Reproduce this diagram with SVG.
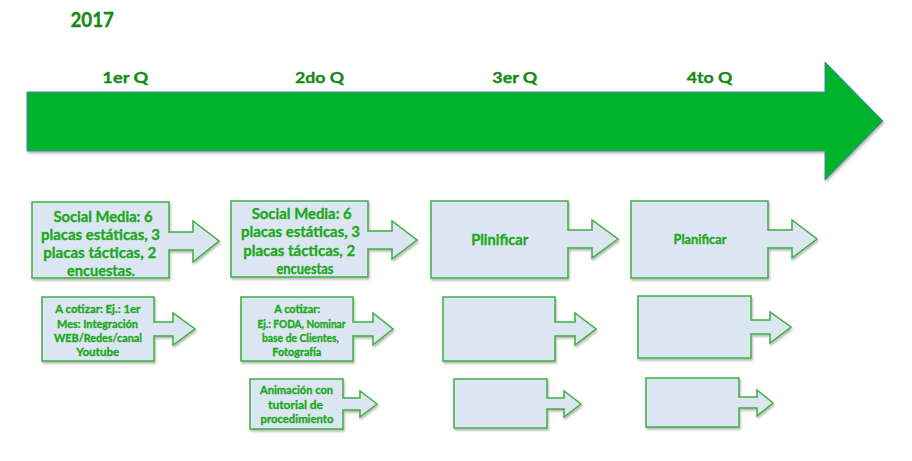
<svg xmlns="http://www.w3.org/2000/svg" width="912" height="461" viewBox="0 0 912 461">
<style>
.bg{fill:#ffffff}
.node path{fill:#DCE6F2;stroke:#3DB040;stroke-width:1.5;stroke-linejoin:miter}
.t{font-family:Lato,"Open Sans","Liberation Sans",sans-serif;font-weight:bold;fill:#1EA820;stroke:#1EA820;stroke-width:0.35;text-anchor:middle}
.big{font-size:15.5px}
.small{font-size:11.5px}
.mid{font-size:15px}
.lbl{font-family:Lato,"Open Sans","Liberation Sans",sans-serif;font-weight:bold;fill:#138A13;stroke:#138A13;stroke-width:0.35;font-size:16px}
</style>
<defs>
<filter id="sh" x="-10%" y="-10%" width="130%" height="140%">
<feDropShadow dx="1" dy="2" stdDeviation="1.2" flood-color="#000" flood-opacity="0.28"/>
</filter>
</defs>
<rect class="bg" x="0" y="0" width="912" height="461"/>

<g id="title">
<text class="lbl" x="70.5" y="27.3" style="font-size:20.5px" textLength="43.5" lengthAdjust="spacingAndGlyphs">2017</text>
</g>

<g id="timeline">
<path d="M27 92 H825 V62 L883 121 L825 180 V151 H27 Z" fill="#00B32A" stroke="#4F81BD" stroke-width="1" filter="url(#sh)"/>
<text class="lbl" x="102.3" y="82.5" textLength="46" lengthAdjust="spacingAndGlyphs">1er Q</text>
<text class="lbl" x="295" y="82.5" textLength="49" lengthAdjust="spacingAndGlyphs">2do Q</text>
<text class="lbl" x="492.3" y="82.5" textLength="45" lengthAdjust="spacingAndGlyphs">3er Q</text>
<text class="lbl" x="686.7" y="82.5" textLength="45.6" lengthAdjust="spacingAndGlyphs">4to Q</text>
</g>

<g id="connectors"></g>

<g id="q1-social" class="node">
<path d="M32 202 H169 V232 H193 V221 L219 241 L193 262 V250 H169 V278 H32 Z" filter="url(#sh)"/>
<text class="t big" x="103" y="222" textLength="99" lengthAdjust="spacingAndGlyphs">Social Media: 6</text>
<text class="t big" x="100.5" y="240" textLength="119" lengthAdjust="spacingAndGlyphs">placas estáticas, 3</text>
<text class="t big" x="99.7" y="258" textLength="113" lengthAdjust="spacingAndGlyphs">placas tácticas, 2</text>
<text class="t big" x="101" y="275.5" textLength="68" lengthAdjust="spacingAndGlyphs">encuestas.</text>
</g>

<g id="q2-social" class="node">
<path d="M231 201 H368 V231 H392 V221 L417 240 L392 259 V249 H368 V277 H231 Z" filter="url(#sh)"/>
<text class="t big" x="301.7" y="219" textLength="100" lengthAdjust="spacingAndGlyphs">Social Media: 6</text>
<text class="t big" x="300.5" y="237" textLength="119" lengthAdjust="spacingAndGlyphs">placas estáticas, 3</text>
<text class="t big" x="299.2" y="255.5" textLength="112" lengthAdjust="spacingAndGlyphs">placas tácticas, 2</text>
<text class="t big" x="305" y="273.5" textLength="57" lengthAdjust="spacingAndGlyphs">encuestas</text>
</g>

<g id="q3-plan" class="node">
<path d="M431 201 H568 V230 H592 V220 L618 239 L592 258 V248 H568 V278 H431 Z" filter="url(#sh)"/>
<text class="t mid" x="499.7" y="245" textLength="57" lengthAdjust="spacingAndGlyphs">Plinificar</text>
</g>

<g id="q4-plan" class="node">
<path d="M631 201 H768 V230 H792 V220 L817 239 L792 258 V248 H768 V278 H631 Z" filter="url(#sh)"/>
<text class="t mid" x="700" y="244" style="font-size:14px" textLength="53" lengthAdjust="spacingAndGlyphs">Planificar</text>
</g>

<g id="q1-cotizar" class="node">
<path d="M42 297 H154 V322 H173 V313 L195 329 L173 345 V336 H154 V361 H42 Z" filter="url(#sh)"/>
<text class="t small" x="97.8" y="313" textLength="85" lengthAdjust="spacingAndGlyphs">A cotizar: Ej.: 1er</text>
<text class="t small" x="97.5" y="327.5" textLength="81" lengthAdjust="spacingAndGlyphs">Mes: Integración</text>
<text class="t small" x="98" y="342" textLength="88" lengthAdjust="spacingAndGlyphs">WEB/Redes/canal</text>
<text class="t small" x="97.7" y="356" textLength="43" lengthAdjust="spacingAndGlyphs">Youtube</text>
</g>

<g id="q2-cotizar" class="node">
<path d="M241 297 H353 V322 H373 V313 L393 329 L373 345 V336 H353 V361 H241 Z" filter="url(#sh)"/>
<text class="t small" x="297.2" y="313" textLength="46" lengthAdjust="spacingAndGlyphs">A cotizar:</text>
<text class="t small" x="301.5" y="327.5" textLength="88" lengthAdjust="spacingAndGlyphs">Ej.: FODA, Nominar</text>
<text class="t small" x="300.5" y="342" textLength="77" lengthAdjust="spacingAndGlyphs">base de Clientes,</text>
<text class="t small" x="296.8" y="356" textLength="49" lengthAdjust="spacingAndGlyphs">Fotografía</text>
</g>

<g id="q3-row2" class="node">
<path d="M443 297 H555 V322 H575 V313 L596 329 L575 345 V336 H555 V361 H443 Z" filter="url(#sh)"/>
</g>

<g id="q4-row2" class="node">
<path d="M638 296 H751 V320 H770 V312 L791 327 L770 343 V334 H751 V358 H638 Z" filter="url(#sh)"/>
</g>

<g id="q2-animacion" class="node">
<path d="M250 379 H343 V398 H360 V391 L377 404 L360 417 V410 H343 V429 H250 Z" filter="url(#sh)"/>
<text class="t small" x="296.5" y="394" textLength="73" lengthAdjust="spacingAndGlyphs">Animación con</text>
<text class="t small" x="295.5" y="408.5" textLength="55" lengthAdjust="spacingAndGlyphs">tutorial de</text>
<text class="t small" x="297" y="423" textLength="73" lengthAdjust="spacingAndGlyphs">procedimiento</text>
</g>

<g id="q3-row3" class="node">
<path d="M454 379 H547 V398 H564 V391 L581 404 L564 417 V409 H547 V428 H454 Z" filter="url(#sh)"/>
</g>

<g id="q4-row3" class="node">
<path d="M646 378 H739 V397 H757 V390 L773 403 L757 416 V408 H739 V427 H646 Z" filter="url(#sh)"/>
</g>
</svg>
